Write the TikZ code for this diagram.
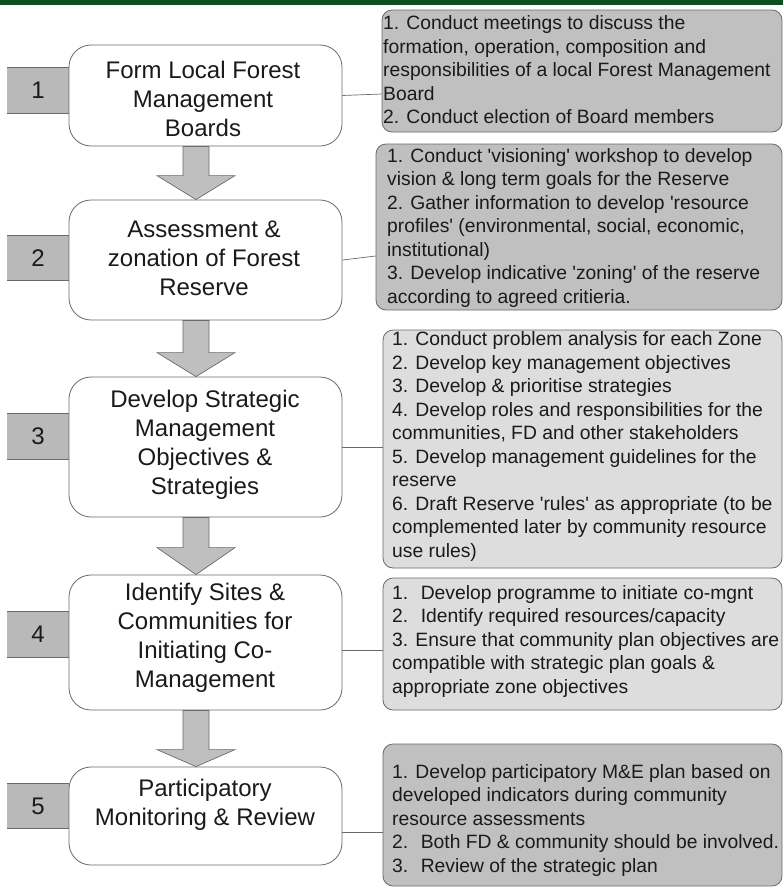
\documentclass[tikz,border=0pt]{standalone}
\usepackage{fontspec}
\setmainfont{Liberation Sans}
\usetikzlibrary{calc}

\definecolor{bargreen}{HTML}{0E4F1F}
\definecolor{edgegray}{HTML}{6A6A6A}
\definecolor{numfill}{HTML}{B9B9B9}
\definecolor{arrowfill}{HTML}{BFBFBF}
\definecolor{notedark}{HTML}{C0C0C0}
\definecolor{notelight}{HTML}{DDDDDD}
\definecolor{inkgray}{HTML}{1A1A1A}

\newcommand{\stepfont}{\fontsize{24}{29}\selectfont}
\newcommand{\notefont}{\fontsize{19.3}{23.5}\selectfont}
\newcommand{\sq}{\textquotesingle}

% block arrow between two stage boxes: from, to, head length (pt)
\newcommand{\stagearrow}[3]{%
  \draw[flowarrow] let \p1=(#1.south), \p2=(#2.north), \p3=(ax) in
    (\x3-13pt,\y1) -- (\x3-13pt,\y2+#3pt) -- (\x3-39pt,\y2+#3pt) -- (\x3,\y2)
    -- (\x3+39pt,\y2+#3pt) -- (\x3+13pt,\y2+#3pt) -- (\x3+13pt,\y1) -- cycle;
}

\tikzset{
  stagebox/.style={draw=edgegray, line width=0.8pt, fill=white, rounded corners=22pt,
    minimum width=273pt, inner sep=0pt},
  stagetext/.style={align=center, font=\stepfont, text=inkgray, inner sep=0pt},
  numbox/.style={fill=numfill, minimum width=62pt, minimum height=45pt, inner sep=0pt},
  numedge/.style={draw=edgegray, line width=0.9pt},
  numtext/.style={font=\stepfont, text=inkgray, inner sep=0pt},
  notebox/.style={draw=edgegray, line width=0.8pt, rounded corners=10pt, inner sep=0pt},
  notetext/.style={align=left, font=\notefont, text=inkgray, inner sep=0pt, anchor=west},
  link/.style={draw=edgegray, line width=0.7pt},
  flowarrow/.style={draw=edgegray, line width=0.7pt, fill=arrowfill, line join=miter},
}

\begin{document}
\begin{tikzpicture}[x=1pt, y=-1pt]
\useasboundingbox (0,0) rectangle (783,892);
\fill[white] (0,0) rectangle (783,892);

% top rule
\fill[bargreen] (0,0) rectangle (783,5);

\coordinate (ax) at (196,0);

% step number tabs
\node[numbox] (n1) at (38,90.5) {};
\node[numbox] (n2) at (38,258) {};
\node[numbox] (n3) at (38,436.5) {};
\node[numbox] (n4) at (38,634.5) {};
\node[numbox] (n5) at (38,806) {};
\foreach \n in {n1,n2,n3,n4,n5}{
  \draw[numedge] (\n.north west) -- (\n.north east) (\n.south west) -- (\n.south east);
}
\node[numtext] (n1t) at (n1) {1};
\node[numtext] (n2t) at (n2) {2};
\node[numtext] (n3t) at (n3) {3};
\node[numtext] (n4t) at (n4) {4};
\node[numtext] (n5t) at (n5) {5};

% stage boxes
\node[stagebox, minimum height=101pt] (b1) at (205.5,95.5) {};
\node[stagebox, minimum height=120pt] (b2) at (205.5,260) {};
\node[stagebox, minimum height=140pt] (b3) at (205.5,447) {};
\node[stagebox, minimum height=135pt] (b4) at (205.5,642.5) {};
\node[stagebox, minimum height=98pt]  (b5) at (205.5,816) {};

\node[stagetext] (b1t) at (203,99) {Form Local Forest\\Management\\Boards};
\node[stagetext] (b2t) at (204,258) {Assessment \&\\zonation of Forest\\Reserve};
\node[stagetext] (b3t) at (205,445) {Develop Strategic\\Management\\Objectives \&\\Strategies};
\node[stagetext] (b4t) at (205,638) {Identify Sites \&\\Communities for\\Initiating Co-\\Management};
\node[stagetext] (b5t) at (205,805) {Participatory\\Monitoring \& Review};

% arrows between stages
\stagearrow{b1}{b2}{24}
\stagearrow{b2}{b3}{24}
\stagearrow{b3}{b4}{27}
\stagearrow{b4}{b5}{17}

% activity notes
\node[notebox, fill=notedark,  minimum width=400pt, minimum height=122pt] (r1) at (582,71) {};
\node[notebox, fill=notedark,  minimum width=406pt, minimum height=166pt] (r2) at (579,227) {};
\node[notebox, fill=notelight, minimum width=399pt, minimum height=238pt] (r3) at (582.5,449) {};
\node[notebox, fill=notelight, minimum width=399pt, minimum height=132pt] (r4) at (582.5,644) {};
\node[notebox, fill=notedark,  minimum width=399pt, minimum height=142pt] (r5) at (582.5,815) {};

\node[notetext] (r1t) at (383,70) {1. Conduct meetings to discuss the\\
formation, operation, composition and\\
responsibilities of a local Forest Management\\
Board\\
2. Conduct election of Board members};

\node[notetext] (r2t) at (387,228) {1. Conduct \sq visioning\sq{} workshop to develop\\
vision \& long term goals for the Reserve\\
2. Gather information to develop \sq resource\\
profiles\sq{} (environmental, social, economic,\\
institutional)\\
3. Develop indicative \sq zoning\sq{} of the reserve\\
according to agreed critieria.};

\node[notetext] (r3t) at (392,446.5) {1. Conduct problem analysis for each Zone\\
2. Develop key management objectives\\
3. Develop \& prioritise strategies\\
4. Develop roles and responsibilities for the\\
communities, FD and other stakeholders\\
5. Develop management guidelines for the\\
reserve\\
6. Draft Reserve \sq rules\sq{} as appropriate (to be\\
complemented later by community resource\\
use rules)};

\node[notetext] (r4t) at (392,641) {1.~ Develop programme to initiate co-mgnt\\
2.~ Identify required resources/capacity\\
3. Ensure that community plan objectives are\\
compatible with strategic plan goals \&\\
appropriate zone objectives};

\node[notetext] (r5t) at (392,820) {1. Develop participatory M\&E plan based on\\
developed indicators during community\\
resource assessments\\
2.~ Both FD \& community should be involved.\\
3.~ Review of the strategic plan};

% links from stages to their notes
\draw[link] (b1.east) -- ([yshift=-23pt]r1.west);
\draw[link] (b2.east) -- ([yshift=-29pt]r2.west);
\draw[link] (b3.east) -- (b3.east -| r3.west);
\draw[link] ([yshift=-7.5pt]b4.east) -- ([yshift=-7.5pt]b4.east -| r4.west);
\draw[link] ([yshift=-16pt]b5.east) -- ([yshift=-16pt]b5.east -| r5.west);
\end{tikzpicture}
\end{document}
